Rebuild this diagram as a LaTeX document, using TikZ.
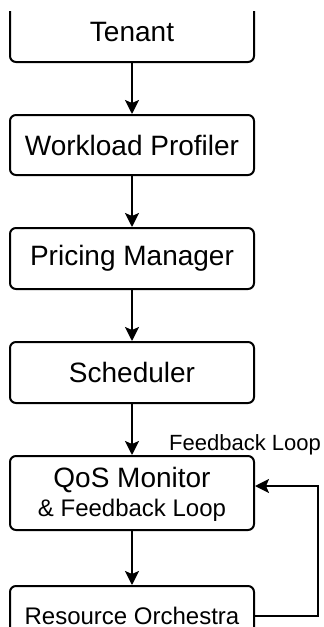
\documentclass[tikz,border=0pt]{standalone}
\usepackage{fontspec}
\setmainfont{Liberation Sans}
\usetikzlibrary{positioning, arrows.meta}

\begin{document}
\begin{tikzpicture}[x=1pt, y=1pt, >={Stealth[length=14pt, width=14pt, inset=3pt]},
        box/.style={draw, line width=2pt, rounded corners=6pt, minimum width=244pt, minimum height=60pt,
          align=center, inner sep=0pt, font=\fontsize{28}{32}\selectfont},
        flow/.style={->, line width=2pt}]
      \useasboundingbox (0,0) rectangle (324,-627);
      \begin{scope}
        \clip (0,-11.5) rectangle (324,-627);
        \node[box] (tenant) at (132,-32) {Tenant};
        \node[box] (profiler) at (132,-145) {Workload Profiler};
        \node[box, minimum height=61pt] (pricing) at (132,-258.5) {Pricing Manager};
        \node[box, minimum height=61pt] (sched) at (132,-372.5) {Scheduler};
        \node[box, minimum height=74pt, text depth=2pt] (qos) at (132,-493)
          {QoS Monitor\\[-3pt]{\fontsize{24}{28}\selectfont \& Feedback Loop}};
        \node[box, font=\fontsize{24}{28}\selectfont] (orch) at (132,-616) {Resource Orchestra};
        \node[font=\fontsize{22}{26}\selectfont, inner sep=0pt] (fblabel) at (245,-445) {Feedback Loop};
        \draw[flow] (tenant) -- (profiler);
        \draw[flow] (profiler) -- (pricing);
        \draw[flow] (pricing) -- (sched);
        \draw[flow] (sched) -- (qos);
        \draw[flow] (qos) -- (orch);
        % loop back from the orchestra into the monitor
        \coordinate (loopin) at ([yshift=7pt]qos.east);
        \draw[flow] (orch.east) -| (318,-486) -- (loopin);
      \end{scope}
    \end{tikzpicture}
\end{document}
